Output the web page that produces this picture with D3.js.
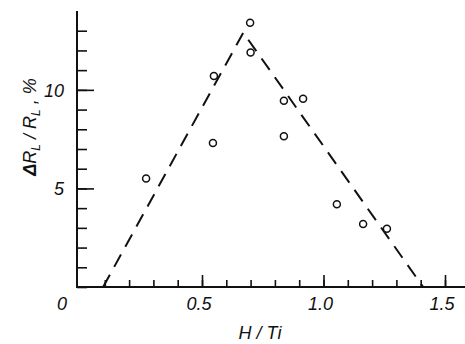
<!DOCTYPE html>
<html>
<head>
<meta charset="utf-8">
<script src="https://cdn.jsdelivr.net/npm/d3@7"></script>
<style>
body { margin: 0; background: #fff; }
text { font-family: "Liberation Sans", Arial, sans-serif; font-style: italic; fill: #111; }
</style>
</head>
<body>
<div id="chart"></div>
<script>
// data
var hTi = [0.27, 0.545, 0.549, 0.698, 0.70, 0.837, 0.837, 0.916, 1.055, 1.163, 1.261];
var dR = [5.5, 7.3, 10.7, 13.4, 11.9, 9.45, 7.65, 9.55, 4.2, 3.2, 2.95];
// dashed guide line (x, y)
var lineX = [0.093, 0.67, 1.41];
var lineY = [0, 12.9, 0];
var xLabels = ["0.5", "1.0", "1.5"];
var yLabels = ["5", "10"];

var svgWidth = 465, svgHeight = 344;

var svg = d3.select("#chart").append("svg")
    .attr("width", svgWidth)
    .attr("height", svgHeight);

var x = d3.scaleLinear().domain([0, 1.5]).range([80.5, 445]);
var y = d3.scaleLinear().domain([0, 14]).range([287, 11]);
var axisX0 = 77;

// y axis (ticks point inward)
var yMinor = svg.append("g")
    .attr("transform", `translate(${axisX0},0)`)
    .call(d3.axisRight(y).tickValues(d3.range(0, 14)).tickSize(10).tickFormat(""));
var yMajor = svg.append("g")
    .attr("transform", `translate(${axisX0},0)`)
    .call(d3.axisRight(y).tickValues([5, 10]).tickSize(17).tickFormat(""));

// x axis (ticks point up)
var xMinor = svg.append("g")
    .attr("transform", `translate(0,${y(0)})`)
    .call(d3.axisTop(x).tickValues(d3.range(1, 16).map(d => d / 10)).tickSize(7).tickFormat(""));
var xMajor = svg.append("g")
    .attr("transform", `translate(0,${y(0)})`)
    .call(d3.axisTop(x).tickValues([0.5, 1.0, 1.5]).tickSize(12).tickFormat(""));

svg.selectAll(".domain").remove();
svg.selectAll(".tick line").attr("stroke", "#111").attr("stroke-width", 1.6);

// axis lines
svg.append("line")
    .attr("x1", axisX0).attr("x2", axisX0)
    .attr("y1", y(14)).attr("y2", y(0) + 1)
    .attr("stroke", "#111").attr("stroke-width", 2);
svg.append("line")
    .attr("x1", axisX0 - 1).attr("x2", 465)
    .attr("y1", y(0)).attr("y2", y(0))
    .attr("stroke", "#111").attr("stroke-width", 2);

// tick labels
svg.selectAll(".xl").data(xLabels).enter().append("text")
    .attr("x", d => x(+d) - 3)
    .attr("y", 310)
    .attr("text-anchor", "middle")
    .attr("font-size", 18)
    .text(d => d);
svg.selectAll(".yl").data(yLabels).enter().append("text")
    .attr("x", 64)
    .attr("y", d => y(+d) + 7)
    .attr("text-anchor", "end")
    .attr("font-size", 18)
    .text(d => d);
svg.append("text")
    .attr("x", 62).attr("y", 310)
    .attr("text-anchor", "middle")
    .attr("font-size", 18)
    .text("0");

// axis titles
svg.append("text")
    .attr("x", 260).attr("y", 339)
    .attr("text-anchor", "middle")
    .attr("font-size", 18)
    .text("H / Ti");

var yt = svg.append("text")
    .attr("transform", "translate(36,127) rotate(-90)")
    .attr("text-anchor", "middle")
    .attr("font-size", 18);
yt.append("tspan").attr("font-weight", "bold").text("Δ");
yt.append("tspan").text("R");
yt.append("tspan").attr("font-size", 12).attr("dy", 4).text("L");
yt.append("tspan").attr("dy", -4).text(" / R");
yt.append("tspan").attr("font-size", 12).attr("dy", 4).text("L");
yt.append("tspan").attr("dy", -4).text(" , %");

// dashed line
var pts = lineX.map((d, i) => [d, lineY[i]]);
svg.append("path")
    .attr("d", d3.line().x(d => x(d[0])).y(d => y(d[1]))(pts))
    .attr("fill", "none")
    .attr("stroke", "#111")
    .attr("stroke-width", 2)
    .attr("stroke-dasharray", "14,9");

// points
svg.selectAll("circle")
    .data(hTi)
    .enter()
    .append("circle")
    .attr("cx", d => x(d))
    .attr("cy", (d, i) => y(dR[i]))
    .attr("r", 3.5)
    .attr("fill", "#fff")
    .attr("stroke", "#111")
    .attr("stroke-width", 1.5);
</script>
</body>
</html>
